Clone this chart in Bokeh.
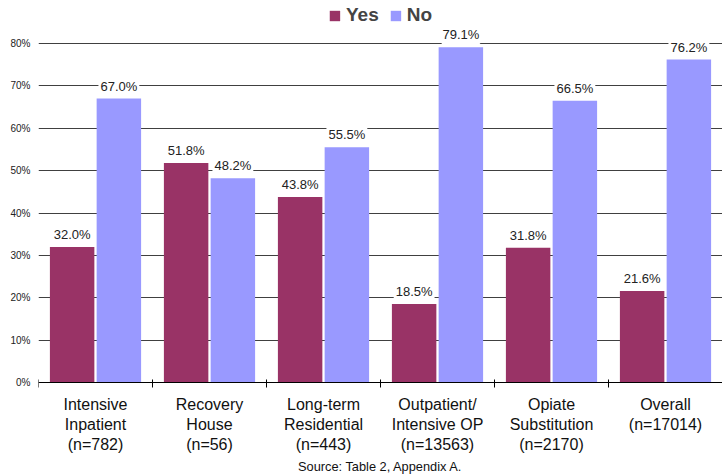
from bokeh.plotting import figure
from bokeh.models import (ColumnDataSource, FixedTicker, LabelSet, Legend, LegendItem,
                          Range1d, Span)
from bokeh.core.properties import value
from bokeh.embed import file_html
from bokeh.resources import INLINE

categories = ["Intensive\nInpatient\n(n=782)", "Recovery\nHouse\n(n=56)",
              "Long-term\nResidential\n(n=443)", "Outpatient/\nIntensive OP\n(n=13563)",
              "Opiate\nSubstitution\n(n=2170)", "Overall\n(n=17014)"]
yes_vals = [32.0, 51.8, 43.8, 18.5, 31.8, 21.6]
no_vals = [67.0, 48.2, 55.5, 79.1, 66.5, 76.2]
y_ticks = [0, 10, 20, 30, 40, 50, 60, 70, 80]
source_note = "Source: Table 2, Appendix A."

YES_C = "#993366"
NO_C = "#9999FF"
FONT = "Liberation Sans"

W, H = 722, 476
LEFT = 38
Y0_PX = 382          # pixel row of 0%
Y80_PX = 43          # pixel row of 80%
U = 80.0 / (Y0_PX - Y80_PX)   # data units per pixel

def px(d):
    """convert a pixel distance (downwards from the 0% line) to data units"""
    return -d * U

n = len(categories)
centers = [i + 0.5 for i in range(n)]
off = 0.205
bw = 0.39

p = figure(width=W, height=H, output_backend="svg", toolbar_location=None,
           x_range=Range1d(0, n), y_range=Range1d(px(H - Y0_PX), Y0_PX * U),
           x_axis_location=None,
           min_border_left=LEFT, min_border_right=0, min_border_top=0, min_border_bottom=0)
p.outline_line_color = None
p.background_fill_color = "white"

yes_src = ColumnDataSource(dict(x=[c - off for c in centers], top=yes_vals,
                                lab=[f"{v:.1f}%" for v in yes_vals]))
no_src = ColumnDataSource(dict(x=[c + off for c in centers], top=no_vals,
                               lab=[f"{v:.1f}%" for v in no_vals]))

r_yes = p.vbar(x="x", top="top", width=bw, bottom=0, source=yes_src, fill_color=YES_C, line_color=None)
r_no = p.vbar(x="x", top="top", width=bw, bottom=0, source=no_src, fill_color=NO_C, line_color=None)

for src in (yes_src, no_src):
    ls = LabelSet(x="x", y="top", text="lab", source=src, y_offset=5,
                  text_align="center", text_baseline="bottom",
                  text_font=value(FONT), text_font_size=value("13px"), text_color="#222222",
                  background_fill_color="white", border_line_color="white", border_line_width=4)
    p.add_layout(ls)

# x axis drawn by hand: baseline, boundary ticks, category labels
p.add_layout(Span(location=0, dimension="width", line_color="black", line_width=1))
bounds = list(range(n + 1))
p.segment(x0=bounds, x1=bounds, y0=[px(-3)] * len(bounds), y1=[px(5)] * len(bounds),
          line_color="black", line_width=1)
p.text(x=centers, y=[px(13)] * n, text=categories, text_align="center", text_baseline="top",
       text_font=value(FONT), text_font_size="16px", text_color="#111111", text_line_height=1.2)
p.text(x=[n / 2], y=[px(84)], text=[source_note], text_align="center", text_baseline="middle",
       text_font=value(FONT), text_font_size="12.8px", text_color="#111111")

p.yaxis.ticker = FixedTicker(ticks=y_ticks)
p.yaxis.major_label_overrides = {t: f"{t}%" for t in y_ticks}
p.yaxis.axis_line_color = None
p.yaxis.major_tick_line_color = None
p.yaxis.minor_tick_line_color = None
p.yaxis.major_tick_out = 0
p.yaxis.major_label_standoff = 8
p.yaxis.major_label_text_font = FONT
p.yaxis.major_label_text_font_size = "10px"
p.yaxis.major_label_text_color = "#222222"

p.xgrid.grid_line_color = None
p.ygrid.ticker = FixedTicker(ticks=y_ticks[1:])
p.ygrid.grid_line_color = "#404040"
p.ygrid.grid_line_width = 1
p.ygrid.level = "underlay"

legend = Legend(items=[LegendItem(label="Yes", renderers=[r_yes]),
                       LegendItem(label="No", renderers=[r_no])],
                orientation="horizontal", location="top_center",
                label_text_font=FONT, label_text_font_style="bold", label_text_font_size="19px",
                glyph_width=13, glyph_height=13, label_standoff=5, spacing=10,
                background_fill_alpha=0, border_line_color=None, margin=4, padding=3)
p.add_layout(legend)

open("out.html", "w").write(file_html(p, INLINE))
